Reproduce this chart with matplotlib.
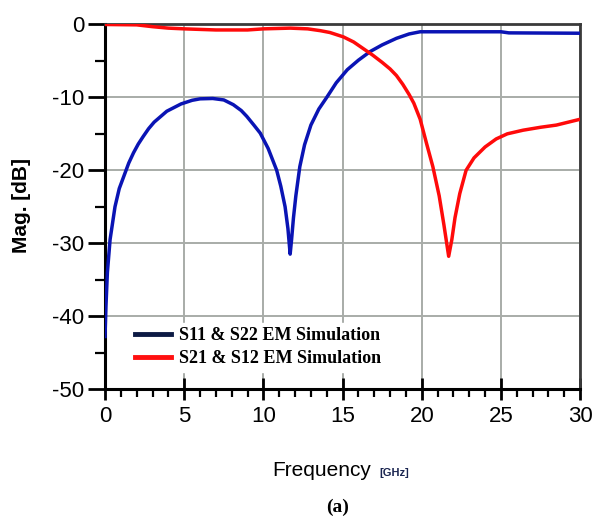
import matplotlib
matplotlib.use("Agg")
import matplotlib.pyplot as plt
from matplotlib.lines import Line2D
from matplotlib.ticker import MultipleLocator

plt.rcParams["axes.unicode_minus"] = False

# S11 & S22 (blue)
freq_s11 = [0.0, 0.06, 0.15, 0.32, 0.63, 0.9, 1.26, 1.5, 1.8, 2.1, 2.4, 2.75,
            3.1, 3.9, 4.8, 5.5, 6.0, 6.8, 7.5, 8.1, 8.6, 8.95, 9.4, 9.8, 10.3,
            10.84, 11.1, 11.37, 11.55, 11.69, 11.78, 11.9, 12.05, 12.3, 12.6,
            13.0, 13.5, 14.0, 14.6, 15.3, 16.0, 16.75, 17.5, 18.4, 19.2, 19.9,
            25.0, 25.5, 30.0]
mag_s11 = [-42.8, -38.6, -34, -29.5, -25, -22.5, -20.4, -19.0, -17.6, -16.4,
           -15.4, -14.3, -13.4, -11.9, -10.9, -10.4, -10.2, -10.15, -10.35,
           -11.0, -11.8, -12.6, -13.8, -14.9, -17.0, -20.0, -22.2, -25.0, -28,
           -31.5, -29.5, -26.5, -23.5, -19.5, -16.5, -13.8, -11.6, -10.0,
           -8.0, -6.2, -4.9, -3.7, -2.8, -1.9, -1.3, -1.0, -1.0, -1.15, -1.2]

# S21 & S12 (red)
freq_s21 = [0.0, 2.0, 3.0, 4.0, 5.0, 7.0, 9.0, 10.0, 11.7, 12.8, 13.6, 14.2,
            15.05, 15.7, 16.3, 16.9, 17.5, 18.0, 18.4, 18.8, 19.2, 19.5, 19.9,
            20.3, 20.7, 21.1, 21.4, 21.7, 21.9, 22.1, 22.4, 22.8, 23.3, 24.0,
            24.7, 25.4, 26.4, 27.5, 28.5, 30.0]
mag_s21 = [0.0, -0.05, -0.3, -0.5, -0.6, -0.75, -0.75, -0.6, -0.5, -0.6, -0.85,
           -1.1, -1.7, -2.4, -3.3, -4.2, -5.2, -6.1, -7.0, -8.2, -9.6, -10.8,
           -13.0, -16.3, -19.5, -23.5, -27.5, -31.8, -29.5, -26.5, -23.2,
           -20.0, -18.3, -16.8, -15.7, -15.0, -14.5, -14.1, -13.8, -13.0]

legend_labels = ["S11 & S22 EM Simulation", "S21 & S12 EM Simulation"]

sans = ["Liberation Sans", "DejaVu Sans"]

fig = plt.figure(figsize=(5.95, 5.21), dpi=100)
ax = fig.add_axes([0.1765, 0.2534, 0.7985, 0.6996])

ax.plot(freq_s11, mag_s11, color="#0a14b4", lw=2.5, zorder=3,
        solid_joinstyle="round")
ax.plot(freq_s21, mag_s21, color="#ff0a0a", lw=2.5, zorder=3,
        solid_joinstyle="round")

ax.set_xlim(0, 30)
ax.set_ylim(-50, 0)
ax.xaxis.set_major_locator(MultipleLocator(5))
ax.xaxis.set_minor_locator(MultipleLocator(1))
ax.yaxis.set_major_locator(MultipleLocator(10))
ax.yaxis.set_minor_locator(MultipleLocator(5))
ax.grid(True, which="major", color="#a8aca8", lw=1.4, zorder=0)

ax.tick_params(axis="x", which="major", direction="inout", length=16, width=2,
               pad=4)
ax.tick_params(axis="x", which="minor", direction="out", length=6, width=1.6)
ax.tick_params(axis="y", which="major", direction="out", length=12, width=2,
               pad=3)
ax.tick_params(axis="y", which="minor", direction="out", length=7, width=1.6)
for lab in ax.get_xticklabels() + ax.get_yticklabels():
    lab.set_family(sans)
    lab.set_fontsize(16)

for side in ["left", "bottom"]:
    ax.spines[side].set_color("black")
    ax.spines[side].set_linewidth(2.2)
for side in ["top", "right"]:
    ax.spines[side].set_color("#3a3a3a")
    ax.spines[side].set_linewidth(2.0)

handles = [Line2D([], [], color="#0c1a44", lw=3.5),
           Line2D([], [], color="#ff1010", lw=3.5)]
leg = ax.legend(handles, legend_labels, loc="lower left",
                bbox_to_anchor=(0.035, 0.022), frameon=True, fancybox=False,
                edgecolor="white", framealpha=1.0, handlelength=2.0,
                handletextpad=0.4, labelspacing=0.35, borderpad=0.25,
                prop={"family": "Liberation Serif", "weight": "bold",
                      "size": 13})
leg.set_zorder(4)

fig.text(0.54, 0.097, "Frequency", family=sans, fontsize=15,
         ha="center", va="center")
fig.text(0.638, 0.093, "[GHz]", family=sans, fontsize=8, weight="bold",
         color="#1a2550", ha="left", va="center")
fig.text(0.036, 0.605, "Mag. [dB]", family=sans, fontsize=15, weight="bold",
         rotation=90, ha="center", va="center")
fig.text(0.567, 0.026, "(a)", family="Liberation Serif", fontsize=14,
         weight="bold", ha="center", va="center")

fig.savefig("out.png", dpi=100)
